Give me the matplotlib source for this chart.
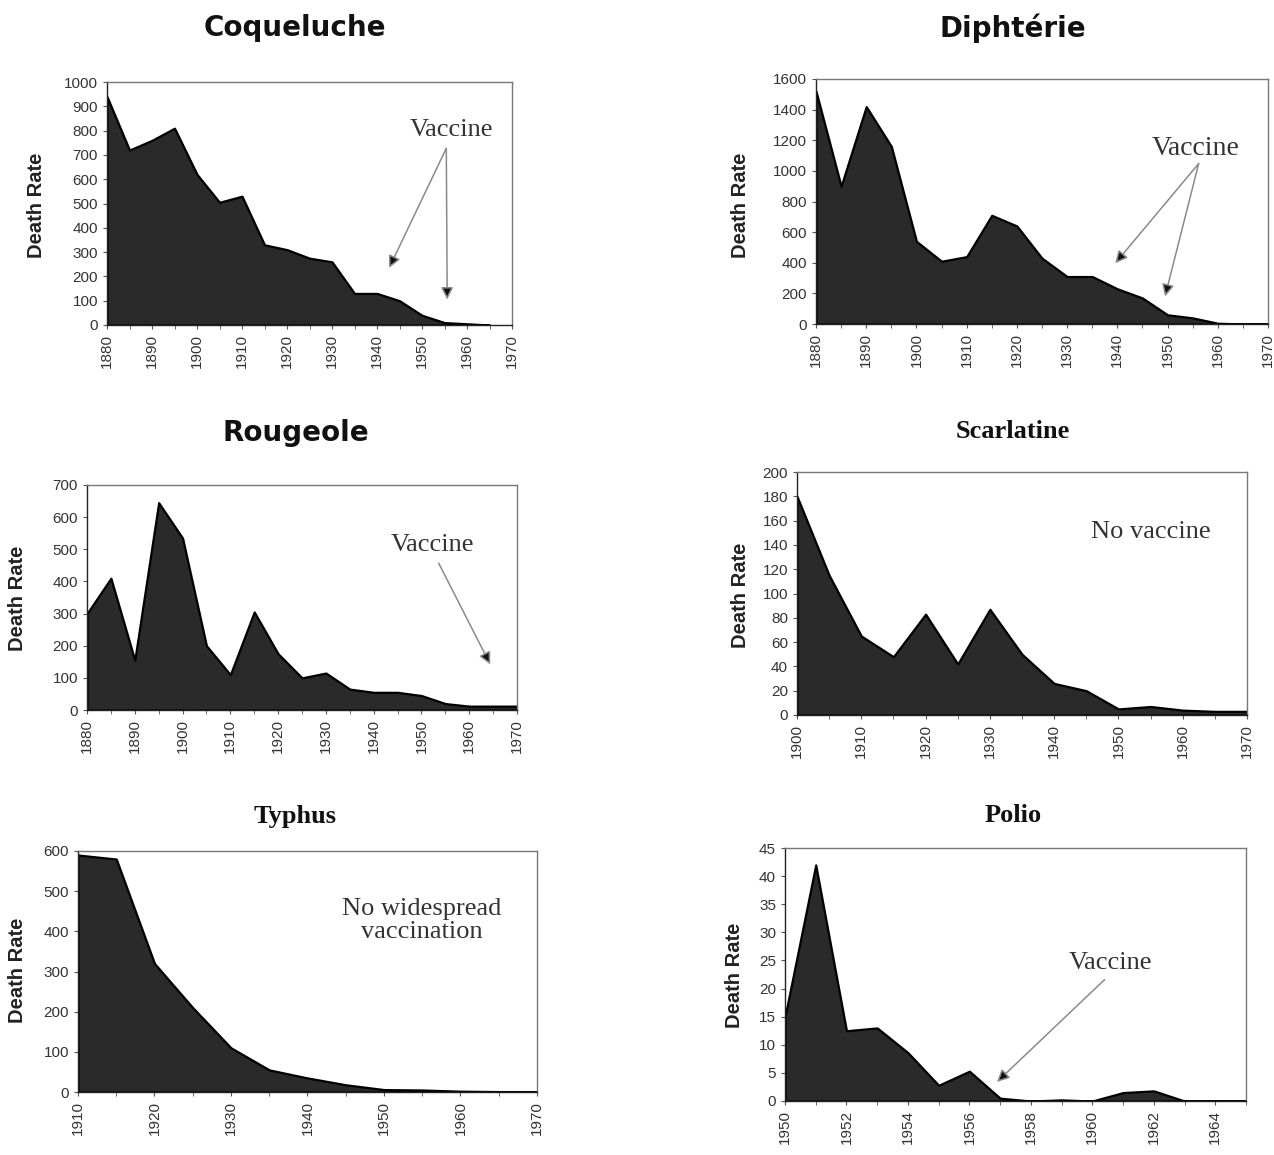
import matplotlib.pyplot as plt
import numpy as np

# --- Data ---
coq_years = list(range(1880, 1970, 5))
coq_rate = [940, 720, 760, 810, 620, 505, 530, 330, 310, 275, 260, 130, 130, 100, 40, 10, 5, 0]

diph_years = list(range(1880, 1975, 5))
diph_rate = [1520, 900, 1420, 1160, 540, 410, 440, 710, 640, 430, 310, 310, 230, 170, 60, 40, 5, 0, 0]

roug_years = list(range(1880, 1975, 5))
roug_rate = [300, 410, 155, 645, 535, 200, 110, 305, 175, 100, 115, 65, 55, 55, 45, 20, 12, 12, 12]

scar_years = list(range(1900, 1975, 5))
scar_rate = [180, 115, 65, 48, 83, 42, 87, 50, 26, 20, 5, 7, 4, 3, 3]

typh_years = list(range(1910, 1975, 5))
typh_rate = [590, 580, 320, 210, 110, 55, 35, 18, 6, 5, 2, 1, 1]

polio_years = list(range(1950, 1966))
polio_rate = [15, 42, 12.5, 13, 8.6, 2.8, 5.3, 0.5, 0, 0.2, 0, 1.5, 1.8, 0, 0, 0]

W, H = 1274, 1155
fig = plt.figure(figsize=(W / 100, H / 100), dpi=100)

SANS = "Liberation Sans"
SERIF = "Liberation Serif"
FILL = "#2a2a2a"
TXT = "#333333"


def px_axes(left, right, top, bottom):
    return [left / W, 1 - bottom / H, (right - left) / W, (bottom - top) / H]


def panel(rect, years, rate, xlim, ylim, ystep, xmajor, xminor):
    ax = fig.add_axes(rect)
    ax.fill_between(years, rate, 0, facecolor=FILL, edgecolor="black", lw=1.6)
    ax.set_xlim(*xlim)
    ax.set_ylim(*ylim)
    ax.set_yticks(np.arange(ylim[0], ylim[1] + ystep / 2, ystep))
    ax.set_xticks(np.arange(xlim[0], xlim[1] + 0.1, xmajor))
    ax.set_xticks(np.arange(xlim[0], xlim[1] + 0.1, xminor), minor=True)
    ax.tick_params(axis="x", rotation=90, labelsize=11, labelcolor=TXT, length=3, color="#555")
    ax.tick_params(axis="x", which="minor", length=3, color="#555")
    ax.tick_params(axis="y", labelsize=11, labelcolor=TXT, length=3, color="#555")
    for lab in ax.get_xticklabels() + ax.get_yticklabels():
        lab.set_fontfamily(SANS)
    for s in ax.spines.values():
        s.set_color("#777777")
        s.set_linewidth(1.0)
    ax.spines["left"].set_color("#222")
    ax.spines["bottom"].set_color("#222")
    return ax


def vaccine(ax, text_xy, start, targets, size=19):
    ax.text(*text_xy, "Vaccine", family=SERIF, fontsize=size, color=TXT,
            ha="center", va="center")
    for t in targets:
        ax.annotate("", xy=t, xytext=start,
                    arrowprops=dict(arrowstyle="-|>", ec="#8a8a8a", fc="#111111",
                                    lw=1.1, mutation_scale=18, shrinkA=0, shrinkB=0))


# Coqueluche
ax1 = panel(px_axes(107, 512, 82, 325), coq_years, coq_rate, (1880, 1970), (0, 1000), 100, 10, 5)
vaccine(ax1, (1956.5, 802), (1955.4, 727), [(1942.7, 235), (1955.6, 105)])

# Diphterie
ax2 = panel(px_axes(816, 1268, 79, 324), diph_years, diph_rate, (1880, 1970), (0, 1600), 200, 10, 5)
vaccine(ax2, (1955.5, 1145), (1956.2, 1048), [(1939.6, 397), (1949.5, 180)], size=20)

# Rougeole
ax3 = panel(px_axes(87, 517, 485, 710), roug_years, roug_rate, (1880, 1970), (0, 700), 100, 10, 5)
vaccine(ax3, (1952.2, 514), (1953.6, 457), [(1964.4, 142)])

# Scarlatine
ax4 = panel(px_axes(797, 1247, 472, 715), scar_years, scar_rate, (1900, 1970), (0, 200), 20, 10, 5)
ax4.text(1955.1, 151, "No vaccine", family=SERIF, fontsize=19, color=TXT, ha="center", va="center")

# Typhus
ax5 = panel(px_axes(78, 537, 851, 1092), typh_years, typh_rate, (1910, 1970), (0, 600), 100, 10, 5)
ax5.text(1954.9, 428, "No widespread\nvaccination", family=SERIF, fontsize=19, color=TXT,
         ha="center", va="center", linespacing=1.05)

# Polio
ax6 = panel(px_axes(785, 1246, 848, 1101), polio_years, polio_rate, (1950, 1965), (0, 45), 5, 2, 1)
ax6.set_xticks(np.arange(1950, 1965, 2))
ax6.set_xticklabels([str(y) for y in range(1950, 1965, 2)], family=SANS, rotation=90)
vaccine(ax6, (1960.6, 24.5), (1960.4, 21.6), [(1956.9, 3.4)])

# --- Titles ---
titles = [
    ("Coqueluche", 295, 28, SANS, 20),
    ("Diphtérie", 1013, 28, SANS, 20),
    ("Rougeole", 296, 433, SANS, 20),
    ("Scarlatine", 1013, 432, SERIF, 19),
    ("Typhus", 295, 816, SERIF, 19),
    ("Polio", 1013, 816, SERIF, 19),
]
for txt, x, y, fam, fs in titles:
    fam_name = "DejaVu Sans" if fam == SANS else fam
    fig.text(x / W, 1 - y / H, txt, family=fam_name, fontsize=fs, fontweight="bold",
             ha="center", va="center", color="#111")

# --- Y labels ---
ylabels = [(36, 205), (740, 205), (18, 598), (740, 595), (18, 970), (735, 975)]
for x, y in ylabels:
    fig.text(x / W, 1 - y / H, "Death Rate", family=SANS, fontsize=14.5, fontweight="bold",
             rotation=90, ha="center", va="center", color="#222")

fig.savefig("out.png", dpi=100, facecolor="white")
